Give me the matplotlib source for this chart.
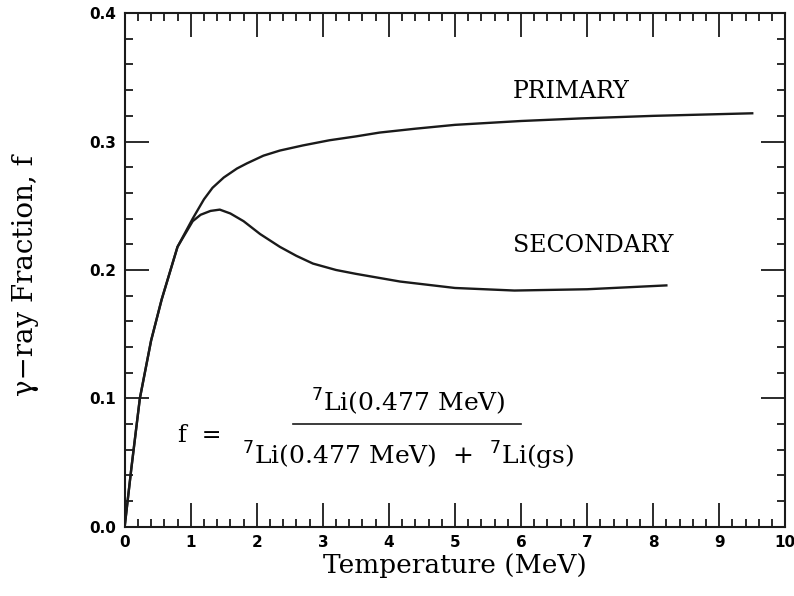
import matplotlib.pyplot as plt
from matplotlib.ticker import MultipleLocator

# valores
temp_prim = [0, 0.1, 0.23, 0.4, 0.56, 0.8, 1.03, 1.2, 1.33, 1.5, 1.7, 1.85, 2.1,
             2.35, 2.7, 3.1, 3.5, 3.86, 4.4, 5.0, 6.0, 6.9, 8.0, 9.5]
f_prim = [0, 0.045, 0.1, 0.145, 0.177, 0.218, 0.240, 0.255, 0.264, 0.272, 0.279,
          0.283, 0.289, 0.293, 0.297, 0.301, 0.304, 0.307, 0.310, 0.313, 0.316,
          0.318, 0.320, 0.322]

temp_sec = [0, 0.1, 0.23, 0.4, 0.56, 0.8, 1.03, 1.15, 1.3, 1.44, 1.6, 1.8, 2.05,
            2.35, 2.6, 2.85, 3.2, 3.5, 4.17, 5.0, 5.9, 7.0, 8.2]
f_sec = [0, 0.045, 0.1, 0.145, 0.177, 0.218, 0.238, 0.243, 0.246, 0.247, 0.244,
         0.238, 0.228, 0.218, 0.211, 0.205, 0.200, 0.197, 0.191, 0.186, 0.184,
         0.185, 0.188]

serif = 'DejaVu Serif'

fig = plt.figure(figsize=(7.94, 5.96), dpi=100)
ax = fig.add_axes([0.157, 0.116, 0.832, 0.862])

ax.plot(temp_prim, f_prim, color='#1a1a1a', lw=1.7)
ax.plot(temp_sec, f_sec, color='#1a1a1a', lw=1.7)

ax.set_xlim(0, 10)
ax.set_ylim(0, 0.4)
ax.xaxis.set_major_locator(MultipleLocator(1))
ax.xaxis.set_minor_locator(MultipleLocator(0.2))
ax.yaxis.set_major_locator(MultipleLocator(0.1))
ax.yaxis.set_minor_locator(MultipleLocator(0.02))
ax.tick_params(which='both', direction='in', top=True, right=True,
               width=1.3, color='#1a1a1a')
ax.tick_params(which='major', length=17, labelsize=11, pad=6)
ax.tick_params(which='minor', length=6)
ax.set_xticks(range(0, 11))
ax.set_xticklabels([str(i) for i in range(0, 11)], fontweight='bold')
ax.set_yticks([0, 0.1, 0.2, 0.3, 0.4])
ax.set_yticklabels(['0.0', '0.1', '0.2', '0.3', '0.4'], fontweight='bold')
for s in ax.spines.values():
    s.set_linewidth(1.5)
    s.set_color('#1a1a1a')

ax.set_xlabel('Temperature (MeV)', family=serif, fontsize=19, labelpad=2)
ax.set_ylabel('γ−ray Fraction, f', family=serif, fontsize=20)
ax.yaxis.set_label_coords(-0.13, 0.49)

ax.text(5.88, 0.339, 'PRIMARY', family=serif, fontsize=17, va='center')
ax.text(5.88, 0.219, 'SECONDARY', family=serif, fontsize=17, va='center')

ax.text(0.8, 0.071, 'f  =', family=serif, fontsize=17, va='center')
ax.text(4.29, 0.0975, '$^7$Li(0.477 MeV)', family=serif, fontsize=18,
        ha='center', va='center')
ax.text(4.29, 0.055, '$^7$Li(0.477 MeV)  +  $^7$Li(gs)', family=serif,
        fontsize=18, ha='center', va='center')
ax.plot([2.55, 6.0], [0.080, 0.080], color='#1a1a1a', lw=1.2)

fig.savefig('out.png', dpi=100)
